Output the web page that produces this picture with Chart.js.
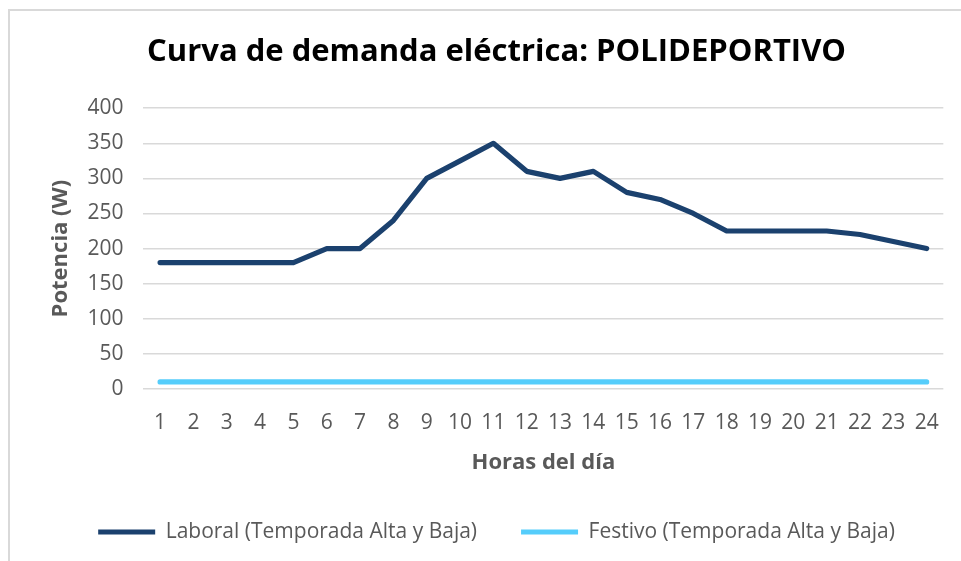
<!DOCTYPE html>
<html>
<head>
<meta charset="utf-8">
<script src="https://cdn.jsdelivr.net/npm/chart.js@4/dist/chart.umd.min.js"></script>
<style>
  html, body { margin: 0; padding: 0; background: #fff; }
  #frame {
    position: absolute; left: 8px; top: 9px; width: 960px; height: 560px;
    border-left: 2px solid #d9d9d9; border-top: 2px solid #d9d9d9;
  }
  #wrap { position: absolute; left: 0; top: 0; width: 961px; height: 561px; }
</style>
</head>
<body>
<div id="frame"></div>
<div id="wrap"><canvas id="demandChart"></canvas></div>
<script>
// horas del día
const horas = ['1','2','3','4','5','6','7','8','9','10','11','12','13','14','15','16','17','18','19','20','21','22','23','24'];

// potencia (W) en día laboral
const laboral = [180,180,180,180,180,200,200,240,300,325,350,310,300,310,280,270,250,225,225,225,225,220,210,200];

// potencia (W) en día festivo
const festivo = [10,10,10,10,10,10,10,10,10,10,10,10,10,10,10,10,10,10,10,10,10,10,10,10];

const yTicks = [0,50,100,150,200,250,300,350,400];

const FONT = '"Open Sans", sans-serif';
const GRIS = '#595959';

new Chart(document.getElementById('demandChart'), {
    type: 'line',
    data: {
        labels: horas,
        datasets: [
            {
                label: 'Laboral (Temporada Alta y Baja)',
                data: laboral,
                borderColor: '#1b416e',
                backgroundColor: '#1b416e',
                borderWidth: 5.2,
                borderCapStyle: 'round',
                borderJoinStyle: 'round',
                pointRadius: 0,
                tension: 0,
            },
            {
                label: 'Festivo (Temporada Alta y Baja)',
                data: festivo,
                borderColor: '#55cdfb',
                backgroundColor: '#55cdfb',
                borderWidth: 5.2,
                borderCapStyle: 'round',
                borderJoinStyle: 'round',
                pointRadius: 0,
                tension: 0,
            },
        ],
    },
    options: {
        responsive: true,
        maintainAspectRatio: false,
        animation: false,
        layout: { padding: { left: 48, right: 16, top: 22, bottom: 8.5 } },
        scales: {
            x: {
                offset: true,
                grid: { display: false, drawTicks: false },
                border: { display: false },
                ticks: { color: GRIS, font: { family: FONT, size: 21 }, padding: 22, maxRotation: 0 },
                title: {
                    display: true,
                    text: 'Horas del día',
                    color: GRIS,
                    font: { family: FONT, size: 22, weight: 'bold' },
                    padding: { top: -9, bottom: 2 },
                },
            },
            y: {
                min: 0,
                max: 400,
                afterBuildTicks: (axis) => { axis.ticks = yTicks.map((v) => ({ value: v })); },
                grid: { color: '#d9d9d9', lineWidth: 1.5, drawTicks: false },
                border: { display: false },
                ticks: { color: GRIS, font: { family: FONT, size: 21 }, padding: 20 },
                title: {
                    display: true,
                    text: 'Potencia (W)',
                    color: GRIS,
                    font: { family: FONT, size: 22, weight: 'bold' },
                    padding: { top: 0, bottom: -7 },
                },
            },
        },
        plugins: {
            title: {
                display: true,
                text: 'Curva de demanda eléctrica: POLIDEPORTIVO',
                color: '#000',
                font: { family: FONT, size: 31, weight: 'bold' },
                padding: { top: 12, bottom: 37 },
            },
            legend: {
                position: 'bottom',
                labels: {
                    color: GRIS,
                    font: { family: FONT, size: 21 },
                    usePointStyle: true,
                    pointStyle: 'line',
                    pointStyleWidth: 57,
                    boxHeight: 21,
                    padding: 44,
                },
            },
            tooltip: { enabled: false },
        },
    },
});
</script>
</body>
</html>
